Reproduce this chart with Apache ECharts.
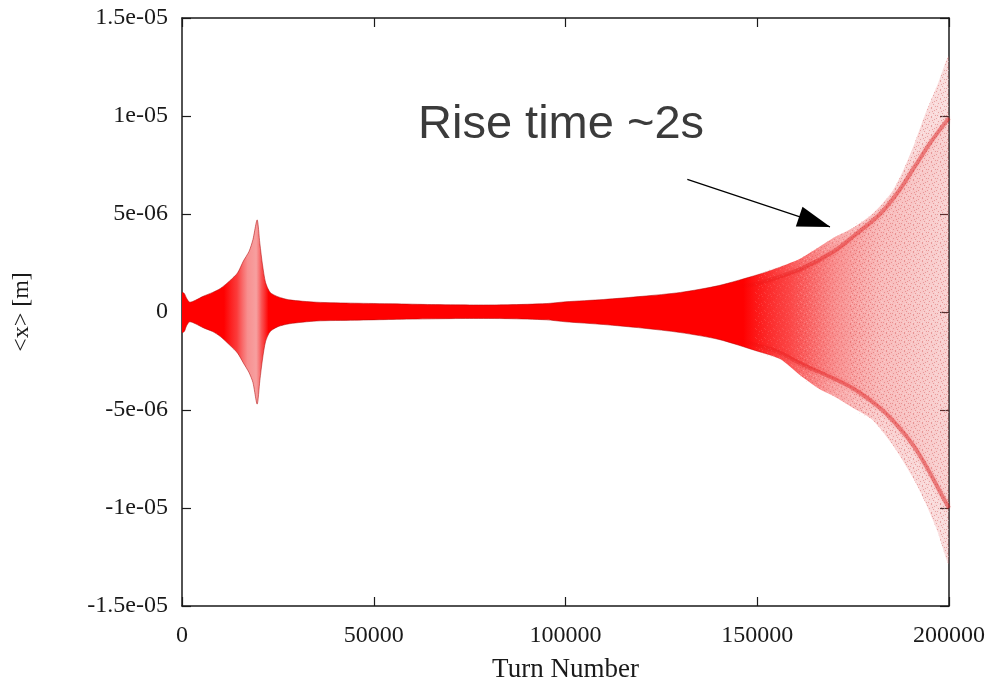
<!DOCTYPE html>
<html>
<head>
<meta charset="utf-8">
<script src="https://cdn.jsdelivr.net/npm/echarts@6/dist/echarts.min.js"></script>
<style>
  html, body { margin: 0; padding: 0; background: #ffffff; }
  #chart { width: 992px; height: 681px; }
</style>
</head>
<body>
<div id="chart"></div>
<script>
// Turn numbers at which the centroid envelope is sampled
const turns = [0, 600, 1200, 2000, 3500, 5500, 8000, 10000, 12500, 14500,
  16000, 17500, 18500, 19600, 20300, 21000, 21800, 23000, 25000, 28000,
  35000, 45000, 55000, 65000, 75000, 85000, 95000, 100000, 110000, 120000,
  130000, 140000, 150000, 156000, 161000, 166000, 170000, 175000, 180000, 185000,
  188000, 191000, 194000, 197000, 200000];

// Upper / lower envelope of <x>, in units of 1e-6 m
const upperEnv = [1.0, 0.95, 0.7, 0.5, 0.6, 0.8, 1.0, 1.2, 1.6, 2.0,
  2.6, 3.1, 3.7, 4.7, 3.5, 2.4, 1.5, 1.0, 0.78, 0.62,
  0.5, 0.45, 0.42, 0.38, 0.36, 0.37, 0.43, 0.52, 0.64, 0.8,
  1.0, 1.35, 1.9, 2.3, 2.7, 3.3, 3.8, 4.3, 5.0, 6.1,
  7.2, 8.6, 10.2, 11.6, 13.0];
const lowerEnv = [-1.05, -1.0, -0.7, -0.5, -0.6, -0.8, -1.0, -1.25, -1.7, -2.1,
  -2.6, -3.1, -3.6, -4.7, -3.5, -2.4, -1.5, -1.0, -0.75, -0.6,
  -0.46, -0.42, -0.38, -0.35, -0.33, -0.34, -0.4, -0.5, -0.64, -0.82,
  -1.05, -1.4, -2.0, -2.4, -3.2, -3.9, -4.3, -4.9, -5.5, -6.7,
  -7.6, -8.6, -9.8, -11.2, -12.8];

// Dense ridges inside the growing envelope (same units)
const ridgeTurns = [145000, 150000, 155000, 162000, 170000, 175000, 182000, 187000, 191000, 195000, 198000, 200000];
const upperRidge = [1.3, 1.45, 1.75, 2.25, 3.1, 3.85, 5.0, 6.2, 7.4, 8.6, 9.4, 9.9];
const lowerRidge = [-1.4, -1.7, -2.0, -2.7, -3.4, -3.9, -4.9, -5.9, -6.9, -8.2, -9.3, -10.0];

// Axis ticks
const xTickValues = [0, 50000, 100000, 150000, 200000];
const xTickLabels = ['0', '50000', '100000', '150000', '200000'];
const yTickValues = [-15, -10, -5, 0, 5, 10, 15];
const yTickLabels = ['-1.5e-05', '-1e-05', '-5e-06', '0', '5e-06', '1e-05', '1.5e-05'];

// Annotation arrow: tail and tip, in (turn, 1e-6 m)
const arrowTail = [131760, 6.77];
const arrowTip = [168970, 4.34];

const G = echarts.graphic.LinearGradient;

// Point density falls where the envelope is wide: shade the band along x
const bandFill = new G(0, 0, 1, 0, [
  { offset: 0.00, color: 'rgba(255,0,0,1)' },
  { offset: 0.055, color: 'rgba(255,0,0,1)' },
  { offset: 0.072, color: 'rgba(250,25,25,0.85)' },
  { offset: 0.086, color: 'rgba(242,70,70,0.6)' },
  { offset: 0.097, color: 'rgba(240,80,80,0.55)' },
  { offset: 0.104, color: 'rgba(248,40,40,0.8)' },
  { offset: 0.113, color: 'rgba(255,0,0,1)' },
  { offset: 0.73, color: 'rgba(255,0,0,1)' },
  { offset: 0.79, color: 'rgba(250,20,20,0.72)' },
  { offset: 0.85, color: 'rgba(242,55,55,0.45)' },
  { offset: 0.91, color: 'rgba(236,95,95,0.3)' },
  { offset: 1.00, color: 'rgba(232,115,115,0.24)' }
]);
const edgeStroke = new G(0, 0, 1, 0, [
  { offset: 0.0, color: 'rgba(170,0,0,0.5)' },
  { offset: 0.72, color: 'rgba(170,0,0,0.5)' },
  { offset: 0.80, color: 'rgba(170,0,0,0)' },
  { offset: 1.0, color: 'rgba(170,0,0,0)' }
]);
const coreFill = new G(0, 0, 1, 0, [
  { offset: 0.0, color: 'rgba(255,0,0,0)' },
  { offset: 0.25, color: 'rgba(255,0,0,0.18)' },
  { offset: 1.0, color: 'rgba(235,40,40,0.06)' }
]);
const ridgeLine = new G(0, 0, 1, 0, [
  { offset: 0.0, color: 'rgba(220,0,0,0)' },
  { offset: 0.3, color: 'rgba(225,20,20,0.38)' },
  { offset: 1.0, color: 'rgba(215,20,20,0.42)' }
]);

// Fine grain for the sparse part of the cloud
function grainTile() {
  const c = document.createElement('canvas');
  c.width = 9; c.height = 9;
  const g = c.getContext('2d');
  g.fillStyle = 'rgba(185,30,30,0.3)';
  [[0, 1], [4, 0], [7, 2], [2, 4], [6, 5], [1, 7], [4, 8], [8, 7], [5, 3]]
    .forEach(p => g.fillRect(p[0], p[1], 1, 1));
  g.fillStyle = 'rgba(255,255,255,0.4)';
  [[2, 1], [8, 4], [0, 5], [3, 7], [6, 8], [5, 6]]
    .forEach(p => g.fillRect(p[0], p[1], 1, 1));
  return c;
}
const grain = { image: grainTile(), repeat: 'repeat' };

// Closed band between two curves, mapped through the cartesian axes
function bandSeries(name, xs, hi, lo, fill, stroke, smooth, opacity) {
  return {
    name, type: 'custom', coordinateSystem: 'cartesian2d', silent: true,
    data: [[xs[0], hi[0]]],
    encode: { x: 0, y: 1 },
    clip: true,
    renderItem: (params, api) => {
      const top = xs.map((x, i) => api.coord([x, hi[i]]));
      const bottom = xs.map((x, i) => api.coord([x, lo[i]]));
      const children = [{
        type: 'polygon',
        shape: { points: top.concat(bottom.slice().reverse()), smooth: smooth },
        style: { fill: fill, stroke: null, opacity: opacity == null ? 1 : opacity }
      }];
      if (stroke) {
        [top, bottom].forEach(pts => children.push({
          type: 'polyline',
          shape: { points: pts, smooth: smooth },
          style: { fill: null, stroke: stroke, lineWidth: 1 }
        }));
      }
      return { type: 'group', children };
    }
  };
}

// Same envelope restricted to the later turns
function sliceFrom(t0) {
  const idx = turns.map((t, i) => i).filter(i => turns[i] >= t0);
  return {
    xs: idx.map(i => turns[i]),
    hi: idx.map(i => upperEnv[i]),
    lo: idx.map(i => lowerEnv[i])
  };
}
const grainLayers = [[150000, 0.3], [161000, 0.35], [175000, 0.4]].map(([t0, op], k) => {
  const s = sliceFrom(t0);
  return bandSeries('grain ' + k, s.xs, s.hi, s.lo, grain, null, 0.25, op);
});

const serif = '"Liberation Serif", "Times New Roman", serif';
const axisCommon = {
  type: 'value',
  axisLine: { show: true, onZero: false, lineStyle: { color: '#1a1a1a', width: 1.5 } },
  axisTick: { show: true, inside: true, length: 9, lineStyle: { color: '#1a1a1a', width: 1.2 } },
  splitLine: { show: false }
};

const chart = echarts.init(document.getElementById('chart'), null, { renderer: 'canvas' });
chart.setOption({
  animation: false,
  backgroundColor: '#ffffff',
  grid: { left: 182, right: 43, top: 18, bottom: 75, containLabel: false, outerBoundsMode: 'none' },
  xAxis: [
    Object.assign({}, axisCommon, {
      position: 'bottom', min: 0, max: 200000, interval: 50000,
      axisLabel: {
        margin: 18, color: '#1a1a1a', fontFamily: serif, fontSize: 24,
        formatter: v => xTickLabels[xTickValues.indexOf(v)] ?? ''
      },
      name: 'Turn Number', nameLocation: 'middle', nameGap: 50,
      nameTextStyle: { color: '#1a1a1a', fontFamily: serif, fontSize: 27 }
    }),
    Object.assign({}, axisCommon, {
      position: 'top', min: 0, max: 200000, interval: 50000,
      axisLabel: { show: false }
    })
  ],
  yAxis: [
    Object.assign({}, axisCommon, {
      position: 'left', min: -15, max: 15, interval: 5,
      axisLabel: {
        margin: 14, color: '#1a1a1a', fontFamily: serif, fontSize: 24,
        formatter: v => yTickLabels[yTickValues.indexOf(Math.round(v))] ?? ''
      },
      name: '<x> [m]', nameLocation: 'middle', nameGap: 148, nameRotate: 90,
      nameTextStyle: { color: '#1a1a1a', fontFamily: serif, fontSize: 24 }
    }),
    Object.assign({}, axisCommon, {
      position: 'right', min: -15, max: 15, interval: 5,
      axisLabel: { show: false }
    })
  ],
  series: [
    bandSeries('envelope', turns, upperEnv, lowerEnv, bandFill, edgeStroke, 0.25),
    ...grainLayers,
    bandSeries('core', ridgeTurns, upperRidge, lowerRidge, coreFill, null, 0.25),
    {
      name: 'upper ridge', type: 'line', data: ridgeTurns.map((t, i) => [t, upperRidge[i]]),
      symbol: 'none', smooth: 0.3, silent: true,
      lineStyle: { color: ridgeLine, width: 4, shadowBlur: 4, shadowColor: 'rgba(230,0,0,0.35)' }
    },
    {
      name: 'lower ridge', type: 'line', data: ridgeTurns.map((t, i) => [t, lowerRidge[i]]),
      symbol: 'none', smooth: 0.3, silent: true,
      lineStyle: { color: ridgeLine, width: 4, shadowBlur: 4, shadowColor: 'rgba(230,0,0,0.35)' },
      markLine: {
        silent: true, animation: false,
        label: { show: false },
        lineStyle: { color: '#000000', width: 1.2, type: 'solid' },
        data: [[
          { coord: arrowTail, symbol: 'none' },
          { coord: arrowTip, symbol: 'triangle', symbolSize: [21, 33], symbolOffset: [0, 16] }
        ]]
      }
    }
  ],
  graphic: [
    {
      type: 'text', left: 418, top: 102, silent: true, z: 100,
      style: {
        text: 'Rise time ~2s',
        font: '47px "Liberation Sans", Arial, sans-serif',
        fill: '#3b3b3b'
      }
    }
  ]
});
</script>
</body>
</html>
